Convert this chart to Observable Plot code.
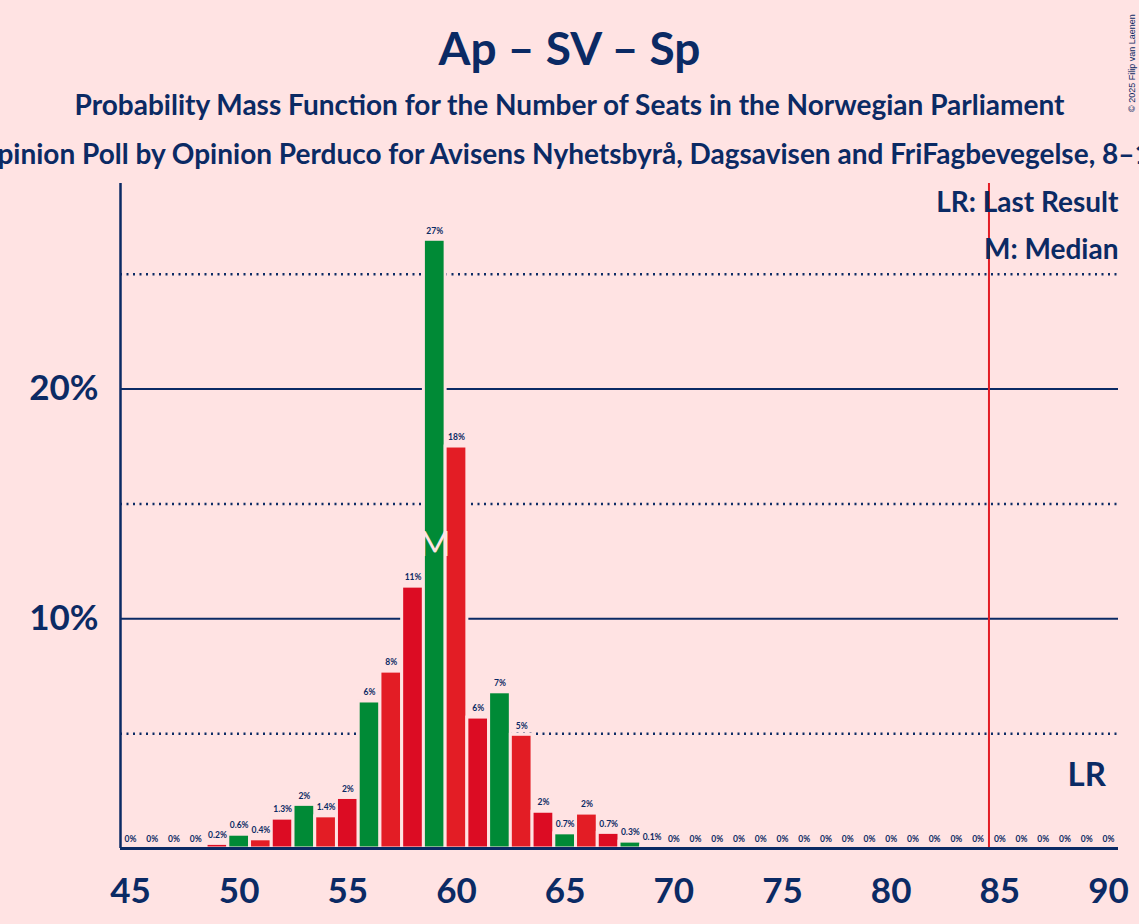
<!DOCTYPE html>
<html>
<head>
<meta charset="utf-8">
<script src="https://cdn.jsdelivr.net/npm/d3@7"></script>
<script src="https://cdn.jsdelivr.net/npm/@observablehq/plot@0.6"></script>
<style>
  html, body { margin:0; padding:0; background:#FFE3E3; overflow:hidden; width:1139px; height:924px; }
  body { position:relative; font-family: Lato, "Noto Sans", sans-serif; color:#0b2a64; }
  .t { position:absolute; white-space:nowrap; font-weight:bold; }
  #title { left:0; width:1139px; text-align:center; top:25px; font-size:46px; line-height:46px; }
  #sub1 { left:0; width:1139px; text-align:center; top:89px; font-size:28px; line-height:30px; }
  #sub2 { left:-25px; top:138px; font-size:28px; line-height:30px; }
  #copy { position:absolute; left:1127px; top:112px; transform-origin:0 0; transform:rotate(-90deg); font-size:9px; line-height:11px; font-family:"Liberation Sans", Arial, sans-serif; color:#0b2a64; white-space:nowrap; }
  #chart { position:absolute; left:0; top:175px; }
</style>
</head>
<body>
<div id="title" class="t">Ap – SV – Sp</div>
<div id="sub1" class="t">Probability Mass Function for the Number of Seats in the Norwegian Parliament</div>
<div id="sub2" class="t">Opinion Poll by Opinion Perduco for Avisens Nyhetsbyrå, Dagsavisen and FriFagbevegelse, 8–1</div>
<div id="copy">© 2025 Filip van Laenen</div>
<div id="chart"></div>
<script>
// ---- data ----
const seats = [45,46,47,48,49,50,51,52,53,54,55,56,57,58,59,60,61,62,63,64,65,66,67,68,69,70,
               71,72,73,74,75,76,77,78,79,80,81,82,83,84,85,86,87,88,89,90];
const probs = [0,0,0,0,0.2,0.6,0.4,1.3,1.9,1.4,2.2,6.4,7.7,11.4,26.5,17.5,5.7,6.8,4.95,1.6,0.66,1.52,0.68,0.3,0.1,0,
               0,0,0,0,0,0,0,0,0,0,0,0,0,0,0,0,0,0,0,0];
const xTicks = [45,50,55,60,65,70,75,80,85,90];
const yTicks = [10,20];
const yMinorTicks = [5,15,25];
const medianSeat = 59;
const lastResultLine = 84.5;
const lrLabelSeat = 89;

// ---- styles ----
const navy = "#0b2a64";
const bg = "#FFE3E3";
const partyColors = ["#E31D25", "#DC0C23", "#008A36"]; // by seat mod 3
const fmt = v => v === 0 ? "0%" : (v < 1.5 ? v.toFixed(1) + "%" : Math.round(v) + "%");

const data = seats.map((s, i) => ({seat: s, p: probs[i], label: fmt(probs[i]), color: partyColors[s % 3]}));

const chart = Plot.plot({
  width: 1139,
  height: 749,
  marginTop: 8,
  marginBottom: 76,
  marginLeft: 120,
  marginRight: 21,
  style: {background: "transparent", fontFamily: "Lato, sans-serif", color: navy, overflow: "visible"},
  x: {domain: [44.54, 90.46], axis: null},
  y: {domain: [0, 28.95], axis: null},
  marks: [
    Plot.ruleY(yTicks, {stroke: navy, strokeWidth: 2}),
    Plot.ruleY(yMinorTicks, {stroke: navy, strokeWidth: 2.5, strokeDasharray: "2,4.5"}),
    Plot.rectY(data.filter(d => d.p > 0), {
      x1: d => d.seat - 0.5, x2: d => d.seat + 0.5, y: "p",
      fill: d => d.color, stroke: bg, strokeWidth: 3
    }),
    Plot.text(data, {x: "seat", y: "p", text: "label", dy: -9, fontSize: 8.5, fontWeight: "bold", fill: navy}),
    Plot.ruleX([lastResultLine], {stroke: "#E31D25", strokeWidth: 2}),
    Plot.ruleY([0], {stroke: navy, strokeWidth: 3}),
    Plot.ruleX([44.54], {stroke: navy, strokeWidth: 2.5}),
    Plot.axisX({ticks: xTicks, tickSize: 0, tickPadding: 30, fontSize: 35, fontWeight: "bold", fill: navy, label: null}),
    Plot.axisY({ticks: yTicks, tickFormat: d => d + "%", tickSize: 0, tickPadding: 22, fontSize: 35, fontWeight: "bold", fill: navy, label: null}),
    Plot.text([medianSeat], {x: d => d, y: () => 13.2, text: () => "M", fontSize: 34, fill: bg, fontWeight: "normal"}),
    Plot.text([lrLabelSeat], {x: d => d, y: () => 3.2, text: () => "LR", fontSize: 33, fontWeight: "bold", fill: navy}),
    Plot.text(["LR: Last Result"], {frameAnchor: "top-right", text: d => d, dy: 9, fontSize: 28, fontWeight: "bold", fill: navy}),
    Plot.text(["M: Median"], {frameAnchor: "top-right", text: d => d, dy: 56, fontSize: 28, fontWeight: "bold", fill: navy})
  ]
});
document.getElementById("chart").appendChild(chart);
</script>
</body>
</html>
